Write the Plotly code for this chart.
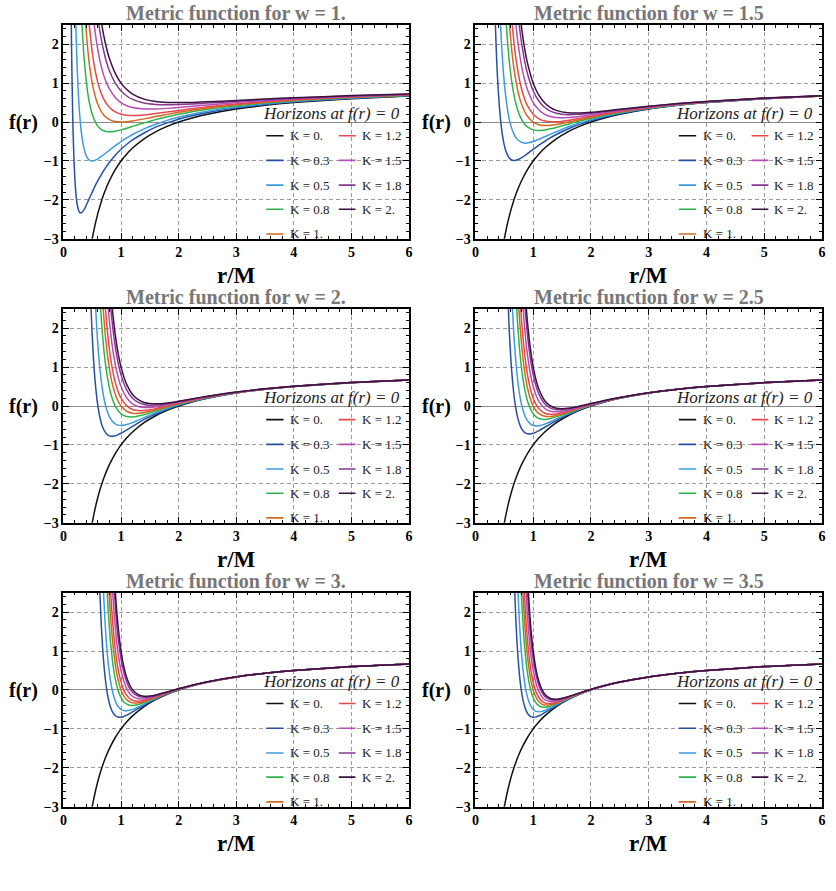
import plotly.graph_objects as go

# ---------------- data ----------------
K_LABELS = ["K = 0.", "K = 0.3", "K = 0.5", "K = 0.8", "K = 1.",
            "K = 1.2", "K = 1.5", "K = 1.8", "K = 2."]
COLORS = ["#111111", "#2550a3", "#3d9be0", "#2db34a", "#d7661f",
          "#e8464a", "#b64cb8", "#87398f", "#3b1241"]
W_LABELS = ["1.", "1.5", "2.", "2.5", "3.", "3.5"]

# K = 0 curve (same in every panel)
R0 = [0.45, 0.5, 0.55, 0.6, 0.65, 0.7, 0.75, 0.8, 0.9, 1.0, 1.1, 1.2, 1.4, 1.6,
      1.8, 2.0, 2.25, 2.5, 3.0, 3.5, 4.0, 5.0, 6.0]
F0 = [-3.444, -3.0, -2.636, -2.333, -2.077, -1.857, -1.667, -1.5, -1.222, -1.0,
      -0.818, -0.667, -0.429, -0.25, -0.111, 0.0, 0.111, 0.2, 0.333, 0.429, 0.5,
      0.6, 0.667]

# w = 1  (each list is aligned to the end of the r grid)
R_W1 = [0.12, 0.14, 0.16, 0.18, 0.2, 0.22, 0.24, 0.26, 0.28, 0.3, 0.32, 0.35,
        0.38, 0.4, 0.42, 0.45, 0.5, 0.55, 0.6, 0.65, 0.7, 0.75, 0.8, 0.9, 1.0,
        1.1, 1.2, 1.4, 1.6, 1.8, 2.0, 2.25, 2.5, 3.0, 3.5, 4.0, 5.0, 6.0]
F_W1 = [
    [5.17, 2.02, 0.22, -0.85, -1.5, -1.89, -2.13, -2.25, -2.32, -2.33, -2.32,
     -2.27, -2.19, -2.125, -2.06, -1.96, -1.8, -1.64, -1.5, -1.37, -1.245, -1.13,
     -1.03, -0.85, -0.7, -0.57, -0.46, -0.28, -0.13, -0.02, 0.075, 0.17, 0.248,
     0.367, 0.453, 0.519, 0.612, 0.675],
    [5.32, 3.5, 2.24, 1.35, 0.70, 0.235, -0.11, -0.37, -0.63, -0.80, -0.875,
     -0.93, -0.975, -1.0, -0.98, -0.944, -0.89, -0.84, -0.78, -0.72, -0.605, -0.5,
     -0.405, -0.32, -0.174, -0.055, 0.043, 0.125, 0.21, 0.28, 0.389, 0.47, 0.531,
     0.62, 0.681],
    [5.14, 4.06, 3.22, 2.56, 1.82, 1.28, 1.0, 0.77, 0.51, 0.2, 0.01, -0.11,
     -0.18, -0.224, -0.245, -0.25, -0.234, -0.2, -0.157, -0.111, -0.02, 0.0625,
     0.136, 0.2, 0.269, 0.328, 0.422, 0.494, 0.55, 0.632, 0.689],
    [4.52, 3.45, 2.66, 2.25, 1.91, 1.49, 1.0, 0.67, 0.445, 0.29, 0.184, 0.111,
     0.0625, 0.012, 0.0, 0.008, 0.028, 0.082, 0.141, 0.198, 0.25, 0.309, 0.36,
     0.444, 0.51, 0.5625, 0.64, 0.694],
    [4.05, 3.5, 3.04, 2.48, 1.8, 1.33, 1.0, 0.76, 0.59, 0.467, 0.375, 0.26, 0.2,
     0.174, 0.167, 0.184, 0.219, 0.26, 0.3, 0.348, 0.392, 0.467, 0.527, 0.575,
     0.648, 0.70],
    [3.96, 3.0, 2.32, 1.83, 1.47, 1.20, 1.0, 0.844, 0.63, 0.5, 0.42, 0.375,
     0.337, 0.336, 0.352, 0.375, 0.407, 0.44, 0.5, 0.551, 0.594, 0.66, 0.708],
    [3.31, 2.67, 2.18, 1.82, 1.53, 1.31, 1.0, 0.8, 0.67, 0.583, 0.49, 0.453,
     0.444, 0.45, 0.467, 0.488, 0.533, 0.575, 0.6125, 0.672, 0.717],
    [3.22, 2.66, 2.22, 1.89, 1.625, 1.25, 1.0, 0.835, 0.72, 0.59, 0.53, 0.506,
     0.5, 0.506, 0.52, 0.555, 0.592, 0.625, 0.68, 0.722],
]

# w = 1.5
R_W15 = [0.3, 0.32, 0.34, 0.36, 0.38, 0.4, 0.42, 0.45, 0.48, 0.5, 0.52, 0.55,
         0.58, 0.6, 0.63, 0.66, 0.7, 0.75, 0.8, 0.85, 0.9, 1.0, 1.1, 1.2, 1.3,
         1.4, 1.6, 1.8, 2.0, 2.25, 2.5, 3.0, 3.5, 4.0, 5.0, 6.0]
F_W15 = [
    [5.44, 3.91, 2.75, 1.87, 1.20, 0.69, 0.29, -0.15, -0.45, -0.6, -0.71, -0.83,
     -0.91, -0.944, -0.975, -0.987, -0.98, -0.956, -0.914, -0.865, -0.81, -0.7,
     -0.593, -0.493, -0.40, -0.32, -0.177, -0.06, 0.0375, 0.137, 0.219, 0.344,
     0.436, 0.505, 0.602, 0.668],
    [3.81, 2.99, 2.04, 1.35, 1.0, 0.71, 0.37, 0.11, -0.02, -0.175, -0.29, -0.40,
     -0.48, -0.52, -0.54, -0.536, -0.5, -0.44, -0.377, -0.31, -0.247, -0.128,
     -0.025, 0.0625, 0.155, 0.232, 0.352, 0.44, 0.508, 0.604, 0.669],
    [3.4, 2.84, 2.17, 1.65, 1.37, 1.02, 0.75, 0.475, 0.23, 0.0625, -0.05,
     -0.125, -0.2, -0.217, -0.204, -0.174, -0.138, -0.055, 0.026, 0.1, 0.181,
     0.251, 0.363, 0.447, 0.5125, 0.606, 0.6704],
    [3.38, 2.68, 2.30, 1.82, 1.45, 1.06, 0.70, 0.45, 0.275, 0.15, 0.0, -0.067,
     -0.088, -0.083, -0.065, -0.006, 0.06, 0.125, 0.199, 0.264, 0.37, 0.452,
     0.516, 0.608, 0.6713],
    [3.22, 2.62, 2.14, 1.64, 1.18, 0.844, 0.60, 0.42, 0.2, 0.083, 0.028, 0.008,
     0.008, 0.043, 0.095, 0.15, 0.216, 0.277, 0.377, 0.457, 0.519, 0.61, 0.6722],
    [3.19, 2.52, 1.89, 1.43, 1.09, 0.836, 0.5, 0.31, 0.20, 0.145, 0.117, 0.116,
     0.146, 0.1875, 0.243, 0.296, 0.389, 0.464, 0.523, 0.612, 0.674],
    [3.39, 2.60, 2.02, 1.58, 1.25, 0.8, 0.534, 0.375, 0.281, 0.226, 0.189,
     0.198, 0.225, 0.269, 0.315, 0.40, 0.471, 0.528, 0.614, 0.675],
    [3.07, 2.41, 1.90, 1.52, 1.0, 0.684, 0.49, 0.372, 0.30, 0.238, 0.232, 0.25,
     0.287, 0.328, 0.407, 0.475, 0.531, 0.616, 0.676],
]

# w = 2
R_W2 = [0.44, 0.46, 0.48, 0.5, 0.52, 0.54, 0.56, 0.58, 0.6, 0.62, 0.64, 0.66,
        0.68, 0.7, 0.72, 0.75, 0.78, 0.8, 0.82, 0.85, 0.9, 0.95, 1.0, 1.1, 1.2,
        1.3, 1.4, 1.5, 1.6, 1.8, 2.0, 2.25, 2.5, 3.0, 3.5, 4.0, 5.0, 6.0]
F_W2 = [
    [4.46, 3.35, 2.49, 1.8, 1.26, 0.82, 0.48, 0.20, -0.02, -0.196, -0.337,
     -0.45, -0.54, -0.61, -0.66, -0.72, -0.753, -0.768, -0.775, -0.778, -0.765,
     -0.737, -0.7, -0.613, -0.522, -0.433, -0.351, -0.274, -0.204, -0.082,
     0.019, 0.123, 0.208, 0.337, 0.431, 0.501, 0.6005, 0.667],
    [3.99, 3.18, 2.51, 1.97, 1.525, 1.16, 0.855, 0.605, 0.40, 0.225, 0.083,
     -0.087, -0.213, -0.28, -0.333, -0.395, -0.46, -0.491, -0.5, -0.477, -0.426,
     -0.363, -0.299, -0.234, -0.174, -0.063, 0.031, 0.131, 0.2128, 0.339, 0.432,
     0.502, 0.6008, 0.667],
    [3.84, 3.19, 2.64, 2.19, 1.80, 1.475, 1.20, 0.86, 0.60, 0.453, 0.33, 0.18,
     -0.003, -0.123, -0.2, -0.272, -0.281, -0.258, -0.221, -0.175, -0.128,
     -0.035, 0.05, 0.142, 0.2205, 0.343, 0.434, 0.503, 0.601, 0.6676],
    [3.84, 3.24, 2.74, 2.31, 1.94, 1.49, 1.14, 0.94, 0.77, 0.56, 0.30, 0.123,
     0.0, -0.135, -0.185, -0.188, -0.169, -0.136, -0.097, -0.016, 0.0625, 0.15,
     0.2256, 0.3457, 0.4357, 0.504, 0.6016, 0.6675],
    [3.67, 3.14, 2.69, 2.13, 1.68, 1.43, 1.215, 0.946, 0.607, 0.369, 0.2, 0.002,
     -0.089, -0.118, -0.117, -0.096, -0.067, 0.003, 0.075, 0.158, 0.2307, 0.348,
     0.437, 0.5047, 0.602, 0.668],
    [3.80, 3.07, 2.49, 2.16, 1.88, 1.52, 1.064, 0.737, 0.5, 0.206, 0.056,
     -0.013, -0.039, -0.037, -0.021, 0.032, 0.094, 0.17, 0.2384, 0.352, 0.439,
     0.506, 0.6024, 0.668],
    [3.30, 2.89, 2.54, 2.10, 1.52, 1.105, 0.8, 0.41, 0.20, 0.092, 0.039, 0.022,
     0.025, 0.06, 0.1125, 0.181, 0.246, 0.355, 0.441, 0.507, 0.603, 0.6684],
    [3.38, 2.99, 2.48, 1.83, 1.35, 1.0, 0.548, 0.297, 0.162, 0.091, 0.062,
     0.055, 0.08, 0.125, 0.189, 0.251, 0.358, 0.442, 0.508, 0.6032, 0.6682],
]

# w = 2.5
R_W25 = [0.52, 0.54, 0.56, 0.58, 0.6, 0.62, 0.64, 0.66, 0.68, 0.7, 0.72, 0.74,
         0.76, 0.78, 0.8, 0.82, 0.84, 0.86, 0.88, 0.9, 0.95, 1.0, 1.05, 1.1, 1.2,
         1.3, 1.4, 1.5, 1.6, 1.8, 2.0, 2.25, 2.5, 3.0, 3.5, 4.0, 5.0, 6.0]
F_W25 = [
    [5.04, 3.83, 2.88, 2.12, 1.525, 1.05, 0.67, 0.365, 0.122, -0.072, -0.228,
     -0.351, -0.449, -0.525, -0.584, -0.63, -0.664, -0.688, -0.704, -0.714,
     -0.717, -0.7, -0.67, -0.632, -0.546, -0.457, -0.373, -0.294, -0.221,
     -0.095, 0.0094, 0.116, 0.203, 0.3345, 0.4291, 0.5003, 0.6001, 0.667],
    [4.10, 3.23, 2.53, 1.96, 1.50, 1.12, 0.81, 0.55, 0.34, 0.168, 0.026, -0.09,
     -0.186, -0.263, -0.325, -0.375, -0.459, -0.5, -0.513, -0.508, -0.466,
     -0.403, -0.336, -0.267, -0.202, -0.085, 0.0156, 0.12, 0.205, 0.3354,
     0.4295, 0.5005, 0.6002, 0.667],
    [3.56, 2.90, 2.36, 1.90, 1.52, 1.21, 0.94, 0.72, 0.53, 0.375, 0.243, 0.133,
     -0.071, -0.2, -0.278, -0.321, -0.345, -0.323, -0.28, -0.228, -0.174,
     -0.069, 0.025, 0.125, 0.208, 0.3366, 0.4305, 0.5008, 0.6003, 0.667],
    [3.39, 2.80, 2.31, 1.90, 1.55, 1.26, 1.01, 0.80, 0.62, 0.47, 0.187, 0.0,
     -0.12, -0.197, -0.265, -0.269, -0.243, -0.201, -0.155, -0.058, 0.031, 0.128,
     0.21, 0.337, 0.431, 0.501, 0.6003, 0.667],
    [3.71, 3.10, 2.59, 2.16, 1.80, 1.49, 1.225, 1.0, 0.81, 0.445, 0.2, 0.035,
     -0.073, -0.185, -0.215, -0.206, -0.175, -0.136, -0.048, 0.0375, 0.132,
     0.212, 0.338, 0.4313, 0.5012, 0.6004, 0.667],
    [3.63, 3.08, 2.61, 2.21, 1.86, 1.57, 1.32, 0.833, 0.5, 0.27, 0.113, -0.064,
     -0.134, -0.15, -0.136, -0.107, -0.032, 0.047, 0.137, 0.215, 0.3395, 0.432,
     0.5015, 0.6005, 0.667],
    [3.42, 2.92, 2.50, 2.14, 1.83, 1.22, 0.8, 0.505, 0.30, 0.057, -0.053,
     -0.094, -0.096, -0.078, -0.016, 0.056, 0.142, 0.218, 0.3407, 0.4324,
     0.5018, 0.6006, 0.667],
    [3.40, 2.93, 2.52, 2.165, 1.48, 1.0, 0.662, 0.424, 0.137, 0.0, -0.057,
     -0.07, -0.059, -0.005, 0.0625, 0.146, 0.22, 0.3415, 0.4328, 0.502, 0.6006,
     0.667],
]

# w = 3
R_W3 = [0.58, 0.6, 0.62, 0.64, 0.66, 0.68, 0.7, 0.72, 0.74, 0.76, 0.78, 0.8,
        0.82, 0.84, 0.86, 0.88, 0.9, 0.92, 0.95, 1.0, 1.05, 1.1, 1.15, 1.2, 1.3,
        1.4, 1.5, 1.6, 1.8, 2.0, 2.25, 2.5, 3.0, 3.5, 4.0, 5.0, 6.0]
F_W3 = [
    [4.10, 3.06, 2.24, 1.60, 1.09, 0.69, 0.375, 0.124, -0.075, -0.232, -0.356,
     -0.452, -0.527, -0.584, -0.627, -0.657, -0.679, -0.697, -0.7, -0.681,
     -0.649, -0.609, -0.566, -0.476, -0.389, -0.307, -0.232, -0.102, 0.0047,
     0.1134, 0.2012, 0.3337, 0.4287, 0.5001, 0.6, 0.6667],
    [4.02, 3.11, 2.39, 1.81, 1.34, 0.96, 0.656, 0.41, 0.205, 0.043, -0.09,
     -0.196, -0.281, -0.35, -0.425, -0.5, -0.532, -0.536, -0.523, -0.50, -0.434,
     -0.363, -0.289, -0.22, -0.096, 0.0078, 0.115, 0.202, 0.334, 0.429, 0.5001,
     0.6, 0.6667],
    [3.96, 3.17, 2.52, 1.99, 1.55, 1.19, 0.90, 0.65, 0.45, 0.284, 0.145, -0.017,
     -0.2, -0.308, -0.366, -0.393, -0.399, -0.372, -0.323, -0.263, -0.202,
     -0.088, 0.0125, 0.117, 0.203, 0.3344, 0.429, 0.5002, 0.6, 0.6667],
    [3.56, 2.88, 2.32, 1.85, 1.47, 1.15, 0.88, 0.66, 0.475, 0.255, 0.0, -0.159,
     -0.254, -0.307, -0.332, -0.331, -0.296, -0.245, -0.19, -0.082, 0.0156,
     0.119, 0.204, 0.3347, 0.4291, 0.5002, 0.6, 0.6667],
    [3.76, 3.08, 2.51, 2.04, 1.64, 1.31, 1.04, 0.805, 0.527, 0.2, -0.01, -0.141,
     -0.22, -0.265, -0.289, -0.27, -0.228, -0.179, -0.076, 0.0187, 0.12, 0.205,
     0.335, 0.4292, 0.5003, 0.6, 0.6667],
    [3.50, 2.89, 2.38, 1.96, 1.60, 1.30, 0.935, 0.5, 0.214, 0.029, -0.091,
     -0.165, -0.227, -0.23, -0.201, -0.161, -0.067, 0.0234, 0.1226, 0.206,
     0.3354, 0.4294, 0.5004, 0.6, 0.6667],
    [3.74, 3.12, 2.60, 2.17, 1.79, 1.34, 0.8, 0.438, 0.198, 0.039, -0.064,
     -0.165, -0.19, -0.175, -0.143, -0.058, 0.028, 0.125, 0.207, 0.336, 0.4296,
     0.5004, 0.6, 0.6667],
    [3.62, 3.03, 2.54, 2.12, 1.615, 1.0, 0.587, 0.311, 0.126, 0.003, -0.124,
     -0.163, -0.157, -0.131, -0.052, 0.031, 0.126, 0.208, 0.336, 0.4297, 0.5005,
     0.6, 0.6667],
]

# w = 3.5
R_W35 = [0.64, 0.66, 0.68, 0.7, 0.72, 0.74, 0.76, 0.78, 0.8, 0.82, 0.84, 0.86,
         0.88, 0.9, 0.92, 0.94, 0.96, 0.98, 1.0, 1.05, 1.1, 1.15, 1.2, 1.3, 1.4,
         1.5, 1.6, 1.8, 2.0, 2.25, 2.5, 3.0, 3.5, 4.0, 5.0, 6.0]
F_W35 = [
    [4.70, 3.47, 2.52, 1.785, 1.21, 0.77, 0.42, 0.144, -0.07, -0.236, -0.364,
     -0.464, -0.539, -0.595, -0.636, -0.665, -0.684, -0.695, -0.7, -0.692,
     -0.664, -0.626, -0.583, -0.49, -0.40, -0.316, -0.239, -0.106, 0.0023,
     0.112, 0.2005, 0.3335, 0.4286, 0.5, 0.6, 0.6667],
    [4.21, 3.21, 2.41, 1.78, 1.28, 0.884, 0.567, 0.314, 0.111, -0.05, -0.177,
     -0.278, -0.357, -0.418, -0.465, -0.5, -0.55, -0.561, -0.551, -0.527,
     -0.458, -0.381, -0.304, -0.231, -0.103, 0.0039, 0.113, 0.2008, 0.3336,
     0.4286, 0.5, 0.6, 0.6667],
    [3.83, 2.99, 2.31, 1.77, 1.33, 0.973, 0.685, 0.451, 0.26, 0.106, -0.018,
     -0.119, -0.2, -0.336, -0.408, -0.438, -0.444, -0.411, -0.353, -0.286,
     -0.22, -0.098, 0.0062, 0.114, 0.2013, 0.3337, 0.4287, 0.5, 0.6, 0.6667],
    [4.13, 3.27, 2.57, 2.01, 1.55, 1.17, 0.87, 0.62, 0.414, 0.248, 0.111, 0.0,
     -0.194, -0.305, -0.363, -0.388, -0.379, -0.334, -0.275, -0.213, -0.095,
     0.0078, 0.1144, 0.2016, 0.3338, 0.4287, 0.5, 0.6, 0.6667],
    [4.22, 3.37, 2.69, 2.12, 1.66, 1.29, 0.98, 0.72, 0.514, 0.341, 0.2, -0.052,
     -0.202, -0.288, -0.332, -0.347, -0.315, -0.263, -0.205, -0.091, 0.0094,
     0.115, 0.202, 0.3339, 0.4287, 0.5, 0.6, 0.6667],
    [3.70, 2.99, 2.40, 1.91, 1.515, 1.185, 0.91, 0.687, 0.5, 0.161, -0.048,
     -0.175, -0.248, -0.299, -0.287, -0.245, -0.194, -0.087, 0.0117, 0.116,
     0.2025, 0.334, 0.4288, 0.5, 0.6, 0.6667],
    [3.85, 3.13, 2.54, 2.05, 1.65, 1.31, 1.03, 0.8, 0.374, 0.106, -0.062,
     -0.165, -0.251, -0.258, -0.228, -0.183, -0.082, 0.014, 0.117, 0.203,
     0.3341, 0.4288, 0.5, 0.6, 0.6667],
    [3.62, 2.96, 2.41, 1.96, 1.58, 1.26, 1.0, 0.516, 0.208, 0.013, -0.109,
     -0.219, -0.239, -0.216, -0.175, -0.078, 0.0156, 0.1178, 0.2033, 0.3342,
     0.4288, 0.5, 0.6, 0.6667],
]

PANELS = [(R_W1, F_W1), (R_W15, F_W15), (R_W2, F_W2),
          (R_W25, F_W25), (R_W3, F_W3), (R_W35, F_W35)]

# ---------------- layout constants (pixels) ----------------
W, H = 836, 891
COL_X = [(60, 409), (476, 826)]
ROW_Y = [(25, 241), (311.5, 527.5), (598, 814)]
ROW_STEP = 286.5
SERIF = "Liberation Serif, Times New Roman, serif"

# legend placement (data coordinates of each panel)
LEG_ROWS = [-0.35, -0.985, -1.62, -2.24, -2.875]
LEG_COLS = [(3.52, 3.82, 3.90), (4.78, 5.07, 5.14)]

fig = go.Figure()
annotations = []
shapes = []
layout = {}

for i, (R, F) in enumerate(PANELS):
    n = i + 1
    row, col = divmod(i, 2)
    xs = "x" if n == 1 else f"x{n}"
    ys = "y" if n == 1 else f"y{n}"

    fig.add_trace(go.Scatter(x=R0, y=F0, mode="lines", xaxis=xs, yaxis=ys,
                             line=dict(color=COLORS[0], width=1.5, shape="spline",
                                       smoothing=0.6),
                             name=K_LABELS[0], showlegend=False))
    for j, vals in enumerate(F):
        xr = R[len(R) - len(vals):]
        fig.add_trace(go.Scatter(x=xr, y=vals, mode="lines", xaxis=xs, yaxis=ys,
                                 line=dict(color=COLORS[j + 1], width=1.5,
                                           shape="spline", smoothing=0.6),
                                 name=K_LABELS[j + 1], showlegend=False))

    x0, x1 = COL_X[col]
    y0, y1 = ROW_Y[row]
    common = dict(
        showline=True, linecolor="black", linewidth=1.6, mirror="ticks",
        ticks="inside", ticklen=6, tickwidth=1.2, tickcolor="black",
        showgrid=True, gridcolor="#9a9a9a", gridwidth=1, griddash="4px,3px",
        tickfont=dict(family=SERIF, size=14, color="black", weight="bold"),
        minor=dict(ticks="inside", ticklen=3, tickwidth=1, tickcolor="black",
                   dtick=0.2, showgrid=False),
    )
    layout["xaxis" if n == 1 else f"xaxis{n}"] = dict(
        common, domain=[x0 / W, x1 / W], anchor=ys, range=[0, 6],
        tickvals=[0, 1, 2, 3, 4, 5, 6], zeroline=False)
    layout["yaxis" if n == 1 else f"yaxis{n}"] = dict(
        common, domain=[1 - y1 / H, 1 - y0 / H], anchor=xs, range=[-3, 2.5],
        tickvals=[-3, -2, -1, 0, 1, 2], zeroline=True, zerolinecolor="#8a8a8a",
        zerolinewidth=1.3)

    cx = (x0 + x1) / 2 / W
    # panel title
    annotations.append(dict(
        text=f"<b>Metric function for w = {W_LABELS[i]}</b>", xref="paper",
        yref="paper", x=cx, y=1 - (13 + ROW_STEP * row) / H, showarrow=False,
        xanchor="center", yanchor="middle",
        font=dict(family=SERIF, size=20, color="#777777")))
    # axis labels
    annotations.append(dict(
        text="<b>r/M</b>", xref="paper", yref="paper", x=cx,
        y=1 - (278 + ROW_STEP * row) / H, showarrow=False, xanchor="center",
        yanchor="middle", font=dict(family=SERIF, size=23, color="black")))
    annotations.append(dict(
        text="<b>f(r)</b>", xref="paper", yref="paper",
        x=(20 if col == 0 else 437) / W, y=1 - (124 + ROW_STEP * row) / H,
        showarrow=False, xanchor="center", yanchor="middle",
        font=dict(family=SERIF, size=20, color="black")))
    # horizon label
    annotations.append(dict(
        text="<i>Horizons at f(r) = 0</i>", xref=xs, yref=ys, x=6, y=0,
        xanchor="right", yanchor="bottom", showarrow=False,
        borderpad=0, xshift=-8, yshift=-2,
        font=dict(family=SERIF, size=17, color="#222222")))
    # legend
    for j, lab in enumerate(K_LABELS):
        c = 0 if j < 5 else 1
        r = j if j < 5 else j - 5
        lx0, lx1, tx = LEG_COLS[c]
        ly = LEG_ROWS[r]
        shapes.append(dict(type="line", xref=xs, yref=ys, x0=lx0, x1=lx1,
                           y0=ly, y1=ly, line=dict(color=COLORS[j], width=1.6)))
        annotations.append(dict(
            text=lab, xref=xs, yref=ys, x=tx, y=ly, xanchor="left",
            yanchor="middle", showarrow=False,
            font=dict(family=SERIF, size=13, color="#222222")))

fig.update_layout(
    width=W, height=H, margin=dict(l=0, r=0, t=0, b=0),
    paper_bgcolor="white", plot_bgcolor="white", showlegend=False,
    annotations=annotations, shapes=shapes, **layout)

fig.write_html("out.html")
